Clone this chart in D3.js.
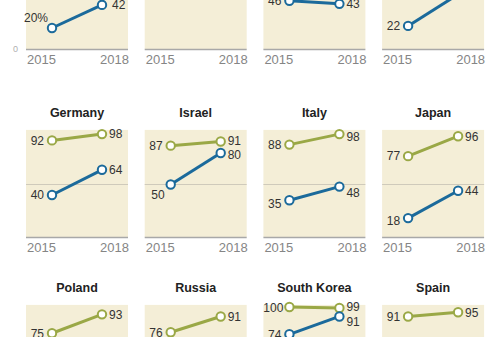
<!DOCTYPE html>
<html>
<head>
<meta charset="utf-8">
<script src="https://cdn.jsdelivr.net/npm/d3@7"></script>
<style>
  html, body { margin: 0; padding: 0; background: #ffffff; }
  svg { display: block; }
  text { font-family: "Liberation Sans", Arial, sans-serif; }
</style>
</head>
<body>
<svg id="chart" width="501" height="337"></svg>
<script>
// ---- data ----
const countries = ["Argentina", "Brazil", "Canada", "France",
                   "Germany", "Israel", "Italy", "Japan",
                   "Poland", "Russia", "South Korea", "Spain"];
const years = ["2015", "2018"];
const blue2015  = [20, 60, 46, 22, 40, 50, 35, 18, 42, 40, 74, 45];
const blue2018  = [42, 70, 43, 52, 64, 80, 48, 44, 58, 52, 91, 60];
const green2015 = [80, 85, 88, 82, 92, 87, 88, 77, 75, 76, 100, 91];
const green2018 = [92, 94, 93, 90, 98, 91, 98, 96, 93, 91, 99, 95];
const axisTicks = [0, 50, 100];

// ---- layout / style (not data) ----
const colors = { blue: "#1b6a9b", green: "#9aa846", bg: "#f4eed7", mid: "#cfcabb", axis: "#a8a8a8" };
const panelW = 102, colStep = 118.7, firstLeft = 26;
const rowBase = [49, 237, 412];          // y of value 0 in each row
const unit = 1.05;                         // px per percentage point
// label nudges [dx, dy] keyed by country|series|yearIndex
const nudge = {
  "Argentina|blue|0": [4, -10],
  "Argentina|blue|1": [3, 0],
  "Israel|blue|0": [2, 10],
  "Israel|green|1": [0, -1],
  "Israel|blue|1": [0, 1.5],
  "Italy|blue|0": [0, 3],
  "Japan|blue|0": [0, 3],
  "Italy|blue|1": [0, 6],
  "Italy|green|1": [0, 3],
  "South Korea|blue|1": [0, 5],
  "South Korea|green|1": [0, -1],
  "South Korea|green|0": [2, 1]
};

const svg = d3.select("#chart");

countries.forEach((name, i) => {
  const row = Math.floor(i / 4), col = i % 4;
  const left = firstLeft + col * colStep;
  const base = rowBase[row];
  const x = d3.scalePoint().domain(years).range([left + 26, left + 76]);
  const y = d3.scaleLinear().domain([0, 100]).range([base, base - 100 * unit]);
  const g = svg.append("g");

  // background
  g.append("rect")
    .attr("x", left).attr("y", y(102))
    .attr("width", panelW).attr("height", y(0) - y(102))
    .attr("fill", colors.bg);
  // midline
  g.append("line")
    .attr("x1", left).attr("x2", left + panelW)
    .attr("y1", y(50)).attr("y2", y(50))
    .attr("stroke", colors.mid).attr("stroke-width", 1);
  // bottom axis
  g.append("line")
    .attr("x1", left).attr("x2", left + panelW)
    .attr("y1", y(0) + 0.5).attr("y2", y(0) + 0.5)
    .attr("stroke", colors.axis).attr("stroke-width", 1.6);

  // y tick labels only on the first panel
  if (i === 0) {
    g.selectAll("text.tick").data(axisTicks).join("text")
      .attr("class", "tick")
      .attr("x", left - 8).attr("y", d => y(d))
      .attr("dy", "0.35em")
      .attr("text-anchor", "end")
      .attr("font-size", 9).attr("fill", "#b0b0b0")
      .text(d => d);
  }

  // title
  g.append("text")
    .attr("x", left + panelW / 2).attr("y", base - 120)
    .attr("text-anchor", "middle")
    .attr("font-size", 12.5).attr("font-weight", "bold").attr("fill", "#222")
    .text(name);

  // year labels
  g.append("text")
    .attr("x", left + 1).attr("y", base + 15)
    .attr("font-size", 13).attr("fill", "#858585")
    .text(years[0]);
  g.append("text")
    .attr("x", left + panelW + 1).attr("y", base + 15)
    .attr("text-anchor", "end")
    .attr("font-size", 13).attr("fill", "#858585")
    .text(years[1]);

  const series = [
    { key: "green", vals: [green2015[i], green2018[i]] },
    { key: "blue",  vals: [blue2015[i],  blue2018[i]] }
  ];
  const line = d3.line().x(d => x(d.year)).y(d => y(d.v));

  series.forEach(s => {
    const pts = years.map((yr, k) => ({ year: yr, v: s.vals[k], k }));
    g.append("path")
      .datum(pts)
      .attr("d", line)
      .attr("fill", "none")
      .attr("stroke", colors[s.key])
      .attr("stroke-width", 3);
    g.selectAll("circle." + s.key).data(pts).join("circle")
      .attr("class", s.key)
      .attr("cx", d => x(d.year)).attr("cy", d => y(d.v))
      .attr("r", 4.2)
      .attr("fill", "#fff")
      .attr("stroke", colors[s.key]).attr("stroke-width", 2);
    g.selectAll("text." + s.key).data(pts).join("text")
      .attr("class", s.key)
      .attr("x", d => {
        const n = nudge[name + "|" + s.key + "|" + d.k] || [0, 0];
        return x(d.year) + (d.k === 0 ? -8 : 7) + n[0];
      })
      .attr("y", d => {
        const n = nudge[name + "|" + s.key + "|" + d.k] || [0, 0];
        return y(d.v) + n[1];
      })
      .attr("dy", "0.36em")
      .attr("text-anchor", d => d.k === 0 ? "end" : "start")
      .attr("font-size", 12).attr("fill", "#333")
      .text(d => (i === 0 && d.k === 0) ? d.v + "%" : d.v);
  });
});
</script>
</body>
</html>
